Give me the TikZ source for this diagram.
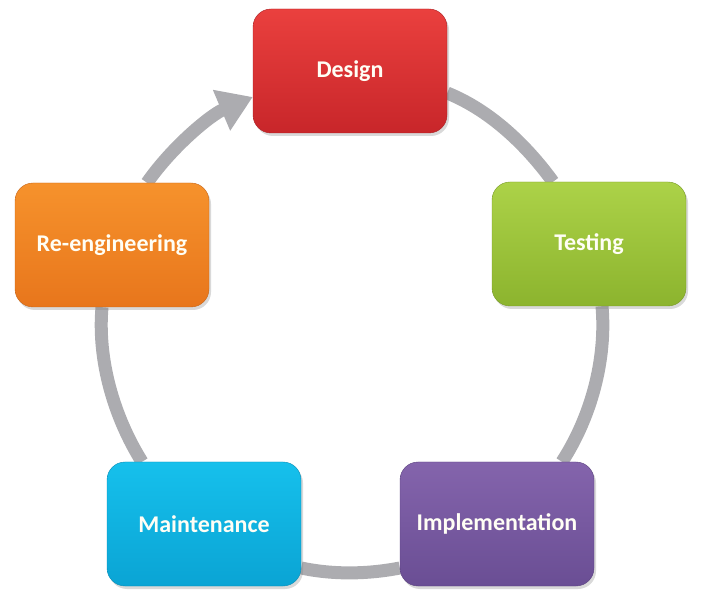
\documentclass[tikz,border=0pt]{standalone}
\usepackage{fontspec}
\setmainfont{Carlito}
\usetikzlibrary{arrows.meta,shadows,backgrounds}

\definecolor{ringgray}{RGB}{172,172,176}
\definecolor{designtop}{RGB}{234,64,62}
\definecolor{designbot}{RGB}{200,38,42}
\definecolor{testtop}{RGB}{172,210,72}
\definecolor{testbot}{RGB}{140,180,46}
\definecolor{reengtop}{RGB}{246,146,44}
\definecolor{reengbot}{RGB}{232,118,28}
\definecolor{mainttop}{RGB}{22,192,236}
\definecolor{maintbot}{RGB}{10,164,212}
\definecolor{impltop}{RGB}{132,100,172}
\definecolor{implbot}{RGB}{106,78,148}

\begin{document}
\begin{tikzpicture}[x=1pt, y=1pt,
	phase/.style={rounded corners=18pt, minimum width=194pt, minimum height=124pt,
		inner sep=0pt, text=white!96!yellow, font=\bfseries\fontsize{24}{28}\selectfont,
		drop shadow={shadow xshift=2pt, shadow yshift=-3pt, opacity=.3}},
	ring/.style={line width=13pt, draw=ringgray, looseness=.85}]
	\useasboundingbox (0,0) rectangle (701,597);
	
	\node [phase, top color=designtop, bottom color=designbot, draw=designbot!85!black] (design) at (350,526) {Design};
	\node [phase, top color=testtop, bottom color=testbot, draw=testbot!85!black] (testing) at (589,353) {Testing};
	\node [phase, top color=impltop, bottom color=implbot, draw=implbot!85!black] (impl) at (497,73) {Implementation};
	\node [phase, top color=mainttop, bottom color=maintbot, draw=maintbot!85!black] (maint) at (204,73) {Maintenance};
	\node [phase, top color=reengtop, bottom color=reengbot, draw=reengbot!85!black] (reeng) at (112,352) {Re-engineering};
	
	\begin{scope}[on background layer]
		\draw [ring] ([yshift=-22pt]design.east) to[out=-22, in=126] ([xshift=-36pt]testing.north);
		\draw [ring] ([xshift=13pt]testing.south) to[out=-85, in=57] ([xshift=65pt]impl.north);
		\draw [ring] ([yshift=-44pt]impl.west) to[out=-169, in=-12] ([yshift=-44pt]maint.east);
		\draw [ring] ([xshift=-62pt]maint.north) to[out=122, in=265] ([xshift=-10pt]reeng.south);
		\draw [ring, -{Triangle[width=42pt, length=34pt]}] ([xshift=35pt]reeng.north) to[out=55, in=203] ([yshift=-26pt]design.west);
	\end{scope}
\end{tikzpicture}
\end{document}
